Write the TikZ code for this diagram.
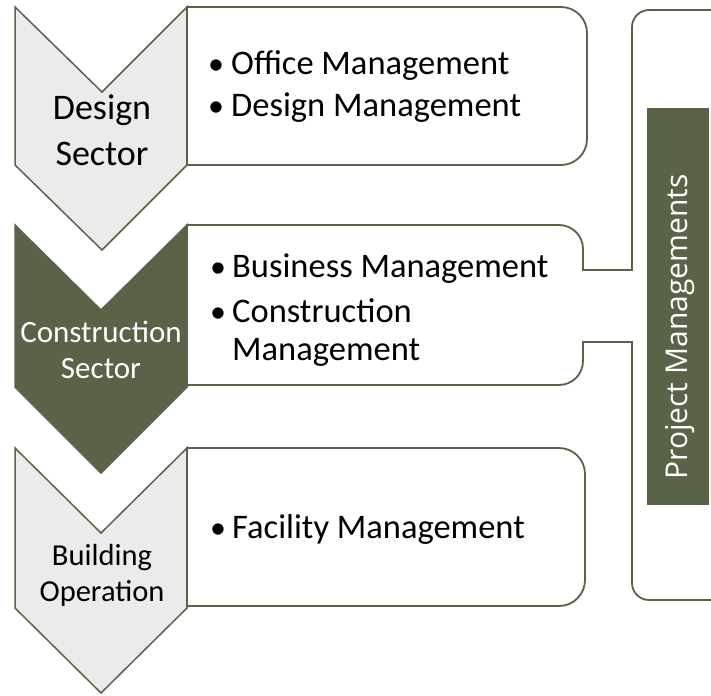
\documentclass[tikz,border=0pt]{standalone}
\usepackage{fontspec}
\setmainfont{Carlito}
\newfontfamily\panelfont{Open Sans}
\definecolor{dkgreen}{HTML}{586348}
\definecolor{lightfill}{HTML}{EBEBEB}
\begin{document}
\begin{tikzpicture}[x=1pt,y=-1pt,
  chev/.style={draw=dkgreen,line width=1.5pt,fill=lightfill,line join=miter},
  chevdark/.style={draw=dkgreen,line width=1.5pt,fill=dkgreen,line join=miter},
  boxline/.style={draw=dkgreen,line width=1.8pt,fill=white},
  txt/.style={inner sep=0pt,anchor=base west,font=\fontsize{34.5}{40}\selectfont},
  bul/.style={inner sep=0pt,anchor=base,font=\fontsize{32}{40}\selectfont},
  chevtxt/.style={inner sep=0pt,anchor=base}]
\useasboundingbox (0,0) rectangle (711,695);
\clip (0,0) rectangle (711,695);
% chevrons
\path[chev] (15,7) -- (102,92) -- (187,7) -- (187,165) -- (102,250) -- (15,165) -- cycle;
\path[chevdark] (15,225) -- (101,310) -- (187,225) -- (187,387) -- (101,473) -- (15,387) -- cycle;
\path[chev] (15,448) -- (101,533) -- (187,448) -- (187,608) -- (101,693) -- (15,608) -- cycle;
% box 1
\path[boxline] (187,7) -- (561,7) arc[start angle=-90,end angle=0,radius=26]
  -- (587,139) arc[start angle=0,end angle=90,radius=26] -- (187,165) -- cycle;
% box 3
\path[boxline] (187,448) -- (559,448) arc[start angle=-90,end angle=0,radius=26]
  -- (585,580) arc[start angle=0,end angle=90,radius=26] -- (187,606) -- cycle;
% box 2 joined with the project panel
\coordinate (b2a) at (583,270);
\coordinate (pa) at (632,270);
\coordinate (b2b) at (583,342);
\coordinate (pb) at (632,342);
\path[boxline] (187,225) -- (559,225) arc[start angle=-90,end angle=0,radius=24]
  -- (b2a) -- (pa) -- (632,27) arc[start angle=180,end angle=270,radius=17]
  -- (725,10) -- (725,600) -- (649,600) arc[start angle=90,end angle=180,radius=17]
  -- (pb) -- (b2b) -- (583,361) arc[start angle=0,end angle=90,radius=24]
  -- (187,385) -- cycle;
% panel label
\node[fill=dkgreen,inner sep=0pt,minimum width=62pt,minimum height=397pt] (pm) at (678,306.5) {};
\node[inner sep=0pt,anchor=base,rotate=90,text=white,font=\panelfont\fontsize{30}{36}\selectfont] (pmt) at (687,327) {Project Managements};
% chevron texts
\node[chevtxt,font=\fontsize{36}{44}\selectfont] (c1a) at (102,120) {Design};
\node[chevtxt,font=\fontsize{36}{44}\selectfont] (c1b) at (102,165) {Sector};
\node[chevtxt,text=white,font=\fontsize{31}{37}\selectfont] (c2a) at (101,342) {Construction};
\node[chevtxt,text=white,font=\fontsize{31}{37}\selectfont] (c2b) at (101,378) {Sector};
\node[chevtxt,font=\fontsize{30.5}{36}\selectfont] (c3a) at (102,565) {Building};
\node[chevtxt,font=\fontsize{30.5}{36}\selectfont] (c3b) at (102,601) {Operation};
% box texts
\node[bul] (u1) at (216,75) {•};
\node[txt] (t1) at (231,75) {Office Management};
\node[bul] (u2) at (216,117) {•};
\node[txt] (t2) at (231,117) {Design Management};
\node[bul] (u3) at (218,277) {•};
\node[txt] (t3) at (232,277) {Business Management};
\node[bul] (u4) at (218,322) {•};
\node[txt] (t4) at (232,322) {Construction};
\node[txt] (t5) at (232,360) {Management};
\node[bul] (u6) at (218,538) {•};
\node[txt] (t6) at (232,538) {Facility Management};
\end{tikzpicture}
\end{document}
